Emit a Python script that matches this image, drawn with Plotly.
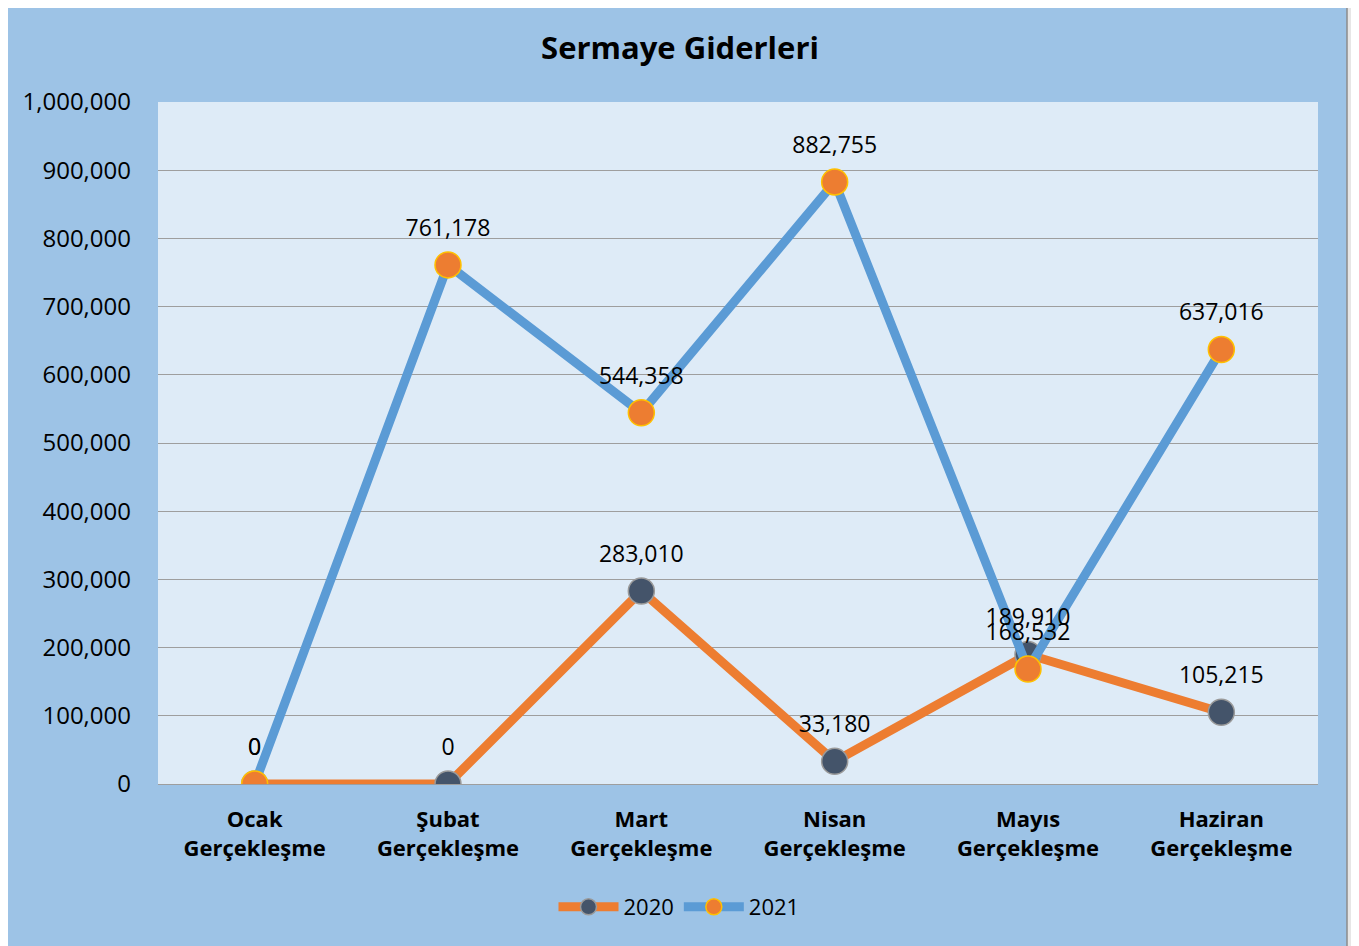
import plotly.graph_objects as go

categories = ["Ocak<br>Gerçekleşme", "Şubat<br>Gerçekleşme", "Mart<br>Gerçekleşme",
              "Nisan<br>Gerçekleşme", "Mayıs<br>Gerçekleşme", "Haziran<br>Gerçekleşme"]
values_2020 = [0, 0, 283010, 33180, 189910, 105215]
values_2021 = [0, 761178, 544358, 882755, 168532, 637016]
series_names = ["2020", "2021"]
title_text = "Sermaye Giderleri"

FONT = "Open Sans"
OFF = 8  # page body margin
W, H = 1359 - OFF, 946 - OFF
L, T = 158 - OFF, 102 - OFF
pw, ph = 1160, 682
R, B = W - L - pw, H - T - ph

def px2x(px):
    return (px - OFF - L) / pw

def py2y(py):
    return (T + ph - (py - OFF)) / ph

x = list(range(len(categories)))

fig = go.Figure()
fig.add_trace(go.Scatter(
    x=x, y=values_2020, name=series_names[0], mode="lines+markers",
    line=dict(color="#ED7D31", width=9),
    marker=dict(size=26, color="#44546A", line=dict(color="#9A9A9A", width=1.5)),
))
fig.add_trace(go.Scatter(
    x=x, y=values_2021, name=series_names[1], mode="lines+markers",
    line=dict(color="#5B9BD5", width=9),
    marker=dict(size=26, color="#ED7D31", line=dict(color="#FFC000", width=1.5)),
))
for vals in (values_2020, values_2021):
    fig.add_trace(go.Scatter(
        x=x, y=vals, mode="markers+text", showlegend=False,
        marker=dict(size=36, color="rgba(0,0,0,0)"),
        text=[f"{v:,}" for v in vals], textposition="top center",
        textfont=dict(family=FONT, size=23, color="#000000"),
        hoverinfo="skip",
    ))

fig.update_layout(
    width=W, height=H,
    margin=dict(l=L, r=R, t=T, b=B, pad=0),
    paper_bgcolor="#E7E6E6",
    plot_bgcolor="rgba(0,0,0,0)",
    font=dict(family=FONT, size=22, color="#000000"),
    title=dict(text=f"<b>{title_text}</b>", x=px2x(680), xref="paper", xanchor="center",
               y=1 - (48 - OFF) / H, yanchor="middle",
               font=dict(family=FONT, size=31, color="#000000")),
    xaxis=dict(
        range=[-0.5, len(categories) - 0.5],
        tickmode="array", tickvals=x,
        ticktext=[f"<b>{c}</b>" for c in categories],
        showgrid=False, zeroline=False, showline=False, ticks="",
        ticklabelstandoff=20,
        tickfont=dict(family=FONT, size=22, color="#000000"),
    ),
    yaxis=dict(
        range=[0, 1000000], dtick=100000, tickformat=",",
        showgrid=True, gridcolor="#9E9E9E", gridwidth=1.3,
        zeroline=True, zerolinecolor="#9E9E9E", zerolinewidth=1.3,
        showline=False, ticks="", ticklabelstandoff=26,
        tickfont=dict(family=FONT, size=24, color="#000000"),
    ),
    legend=dict(orientation="h", x=px2x(679), xanchor="center",
                y=py2y(907), yanchor="middle", itemwidth=60,
                bgcolor="rgba(0,0,0,0)",
                font=dict(family=FONT, size=22, color="#000000")),
    shapes=[
        dict(type="rect", xref="paper", yref="paper", layer="below",
             x0=px2x(6.5), x1=px2x(1347), y0=py2y(960), y1=py2y(3.5),
             fillcolor="#9DC3E6", line=dict(color="#8C8C8C", width=1.5)),
        dict(type="rect", xref="paper", yref="paper", layer="below",
             x0=0, x1=1, y0=0, y1=1,
             fillcolor="#DEEBF7", line=dict(width=0)),
    ],
)

fig.write_html("out.html")
